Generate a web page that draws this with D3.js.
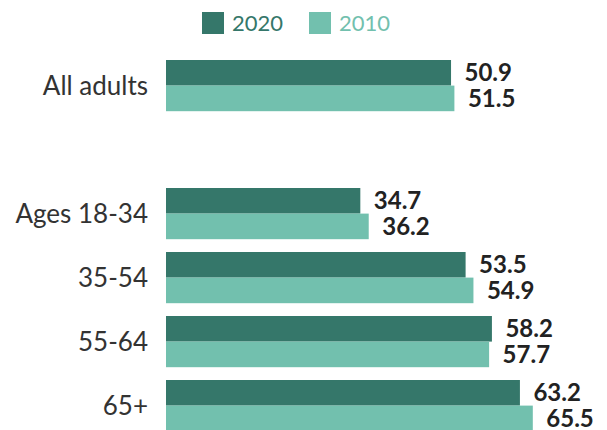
<!DOCTYPE html>
<html><head><meta charset="utf-8">
<script src="https://cdn.jsdelivr.net/npm/d3@7"></script>
<style>body{margin:0;background:#fff}svg{display:block}</style>
</head><body>
<script>
const categories = ["All adults", "", "Ages 18-34", "35-54", "55-64", "65+"];
const series = ["2020", "2010"];
const values2020 = [50.9, null, 34.7, 53.5, 58.2, 63.2];
const values2010 = [51.5, null, 36.2, 54.9, 57.7, 65.5];
const colors = ["#35776a", "#72c0ae"];

const W = 607, H = 430;
const svg = d3.select("body").append("svg").attr("width", W).attr("height", H)
  .style("font-family", "Lato, sans-serif");

const x = d3.scaleLinear().domain([0, 100]).range([166, 166 + 560]);
const y = d3.scaleBand().domain(categories).range([53.6, 437.6]).paddingInner(0.2).paddingOuter(0.1);
const y2 = d3.scaleBand().domain(series).range([0, y.bandwidth()]);

const data = [values2020, values2010];
const rows = [];
categories.forEach((c, i) => {
  series.forEach((s, j) => {
    const v = data[j][i];
    if (v != null) rows.push({c, s, v, j});
  });
});

svg.selectAll("rect.bar").data(rows).join("rect").attr("class", "bar")
  .attr("x", x(0)).attr("y", d => y(d.c) + y2(d.s))
  .attr("width", d => x(d.v) - x(0)).attr("height", y2.bandwidth())
  .attr("fill", d => colors[d.j]);

svg.selectAll("text.val").data(rows).join("text").attr("class", "val")
  .attr("x", d => x(d.v) + 13.5).attr("y", d => y(d.c) + y2(d.s) + y2.bandwidth() / 2)
  .attr("dy", "0.36em").attr("font-size", 24).attr("font-weight", 700).attr("fill", "#222")
  .text(d => d.v.toFixed(1));

const yAxis = d3.axisLeft(y).tickSize(0).tickPadding(0);
const ag = svg.append("g").attr("transform", `translate(148,0)`).call(yAxis);
ag.select(".domain").remove();
ag.selectAll("text").attr("font-size", 26).attr("font-family", "Lato, sans-serif").attr("fill", "#333").attr("dy", "0.35em");

const legendX = [202, 309];
const lg = svg.append("g");
series.forEach((s, j) => {
  lg.append("rect").attr("x", legendX[j]).attr("y", 12).attr("width", 22).attr("height", 22).attr("fill", colors[j]);
  lg.append("text").attr("x", legendX[j] + 30).attr("y", 23).attr("dy", "0.36em")
    .attr("font-size", 22).attr("fill", colors[j]).text(s);
});
</script>
</body></html>
